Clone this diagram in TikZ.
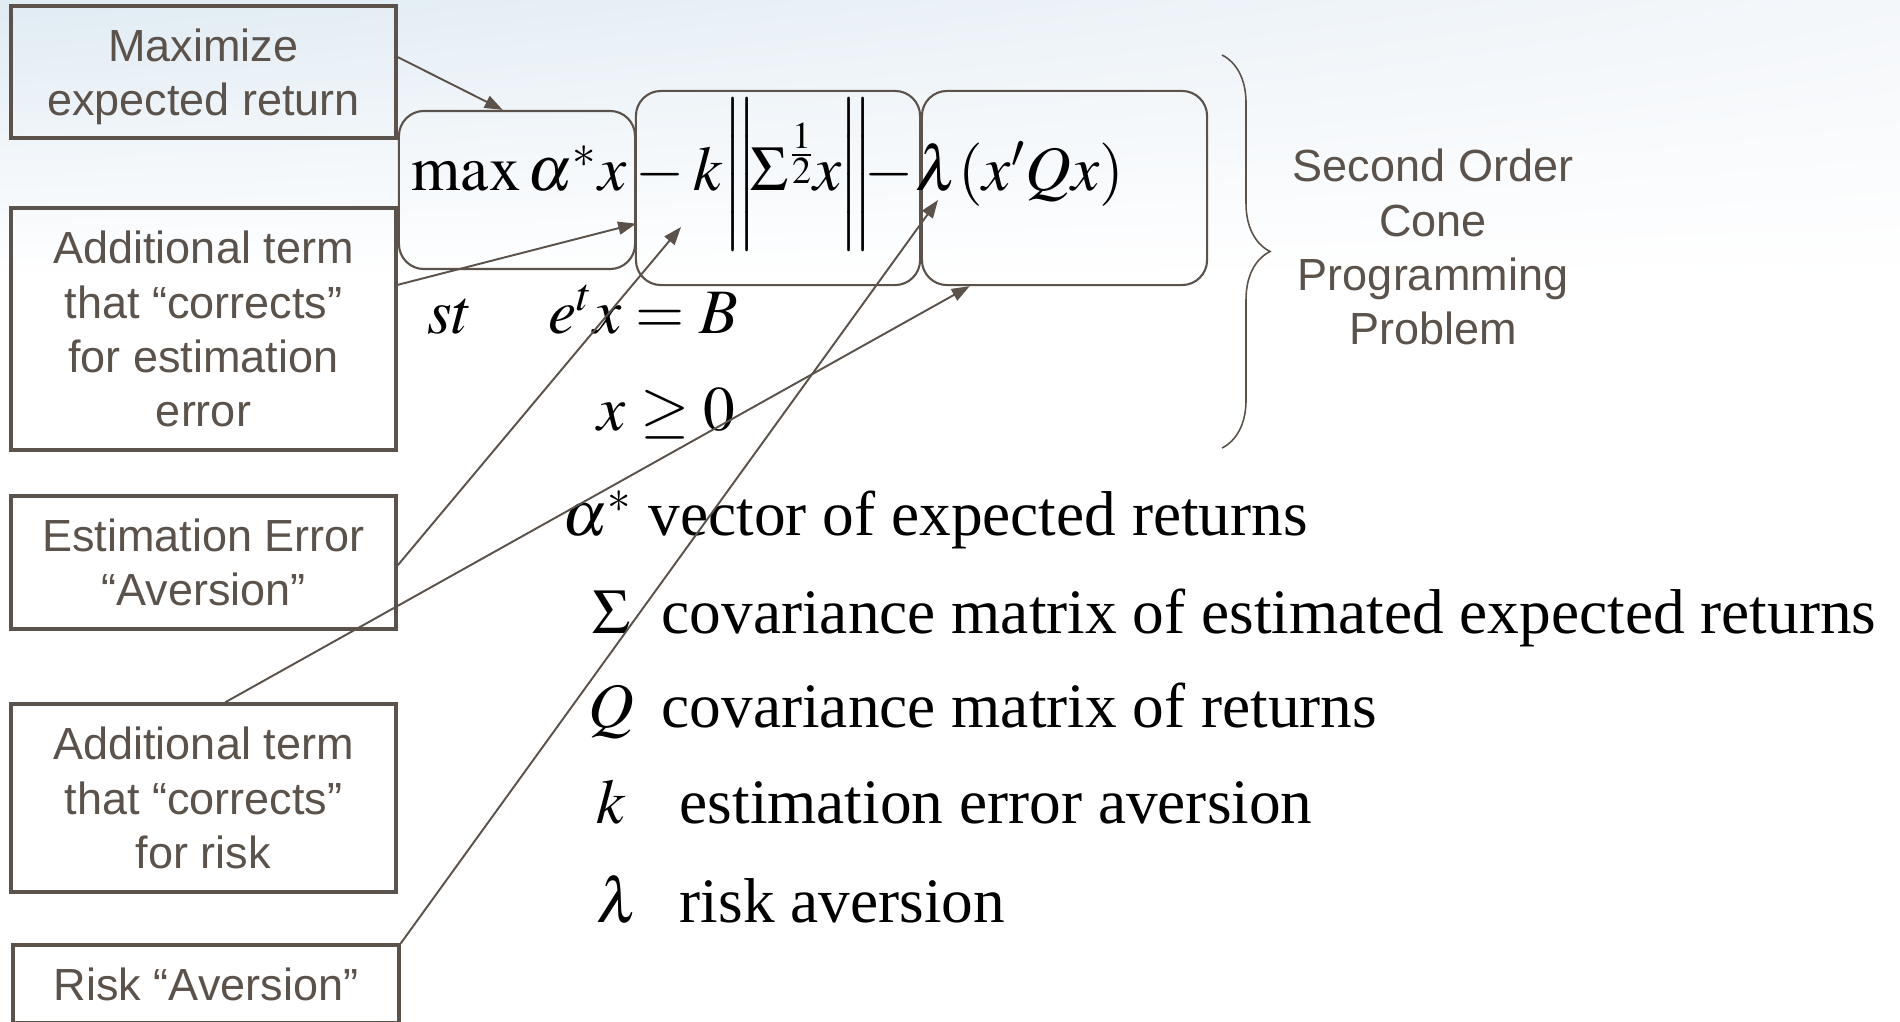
\documentclass[tikz,border=0pt]{standalone}
\usepackage{mathptmx}
\usepackage[no-math]{fontspec}
\setmainfont{Liberation Serif}
\newfontfamily\boxfont{Liberation Sans}
\usepackage{tikz}
\usetikzlibrary{calc, positioning, arrows.meta, decorations.pathreplacing, shadings}
\definecolor{cInk}{HTML}{5B534B}
\definecolor{cSkyA}{HTML}{E0EBF3}
\definecolor{cSkyB}{HTML}{F4F7FA}

\begin{document}
\begin{tikzpicture}[x=0.01cm, y=-0.01cm,
  >={Triangle[length=1.8mm,width=1.3mm]},
  tag/.style={draw=cInk, line width=0.95pt, text=cInk, align=center, inner sep=0pt,
              font=\boxfont\fontsize{12.8}{15.4}\selectfont, minimum width=3.85cm},
  term/.style={draw=cInk, line width=0.6pt, rounded corners=0.25cm, inner sep=0pt},
  eqn/.style={inner sep=0pt, anchor=base west, font=\fontsize{18}{21.6}\selectfont},
  note/.style={text=cInk, align=center, inner sep=0pt, font=\boxfont\fontsize{12.8}{15.4}\selectfont},
  flow/.style={->, line width=0.55pt, draw=cInk}
]
\useasboundingbox (0,0) rectangle (1900,1021);
\fill[white] (0,0) rectangle (1900,1021);
\shade[upper left=cSkyA, upper right=cSkyB, lower left=white, lower right=white] (0,0) rectangle (1900,280);

% labels on the left
\node[tag, minimum height=1.32cm, text depth=0pt] (goal) at (203.5,72) {Maximize\\expected return};
\node[tag, minimum height=2.42cm] (estfix) at (203.5,329) {Additional term\\that “corrects”\\for estimation\\error};
\node[tag, minimum height=1.33cm] (estav) at (203.5,562.5) {Estimation Error\\“Aversion”};
\node[tag, minimum height=1.88cm] (riskfix) at (203.5,798) {Additional term\\that “corrects”\\for risk};
\node[tag, minimum height=0.78cm, minimum width=3.86cm] (riskav) at (206,984) {Risk “Aversion”};

% the three terms of the objective
\node[term, minimum width=2.36cm, minimum height=1.58cm] (rbmax) at (517,190) {};
\node[term, minimum width=2.84cm, minimum height=1.94cm] (rbnorm) at (778,188) {};
\node[term, minimum width=2.85cm, minimum height=1.94cm] (rbquad) at (1064.5,188) {};

\node[eqn] (objective) at (411,190)
  {$\max\alpha^{*}x - k\bigg\|\mkern-2mu\Sigma^{\nulldelimiterspace=0pt\frac{1}{2}}\mkern-1mu x\mkern-1mu\bigg\|\mkern-5mu - \mkern-2mu\lambda(x'Qx)$};
\node[eqn] (st) at (427,333) {$st$};
\node[eqn] (budget) at (548,333) {$e^{t}x = B$};
\node[eqn] (nonneg) at (597,430) {$x \geq 0$};

% legend
\node[eqn] (symA) at (562,535) {$\alpha^{*}$};
\node[eqn] (descA) at (648,535) {vector of expected returns};
\node[eqn] (symS) at (592,633) {$\Sigma$};
\node[eqn] (descS) at (661,633) {covariance matrix of estimated expected returns};
\node[eqn] (symQ) at (588,727) {$Q$};
\node[eqn] (descQ) at (661,727) {covariance matrix of returns};
\node[eqn] (symK) at (596,823) {$k$};
\node[eqn] (descK) at (679,823) {estimation error aversion};
\node[eqn] (symL) at (596,922) {$\lambda$};
\node[eqn] (descL) at (679,922) {risk aversion};

% brace and problem class
\draw[cInk, line width=0.45pt, decorate, decoration={brace, amplitude=0.48cm}] (1222,55) -- (1222,448);
\node[note] (socp) at (1433,247) {Second Order\\Cone\\Programming\\Problem};

\coordinate (kmark) at (681,227);
\coordinate (lammark) at (938,200);

\draw[flow] ($(goal.north east)!0.39!(goal.south east)$) -- ($(rbmax.north west)!0.44!(rbmax.north east)$);
\draw[flow] ($(estfix.north east)!0.32!(estfix.south east)$) -- ($(rbmax.north east)!0.71!(rbmax.south east)$);
\draw[flow] ($(estav.north east)!0.52!(estav.south east)$) -- (kmark);
\draw[flow] ($(riskfix.north west)!0.556!(riskfix.north east)$) -- ($(rbquad.south west)!0.17!(rbquad.south east)$);
\draw[flow] (riskav.north east) -- (lammark);
\end{tikzpicture}
\end{document}
